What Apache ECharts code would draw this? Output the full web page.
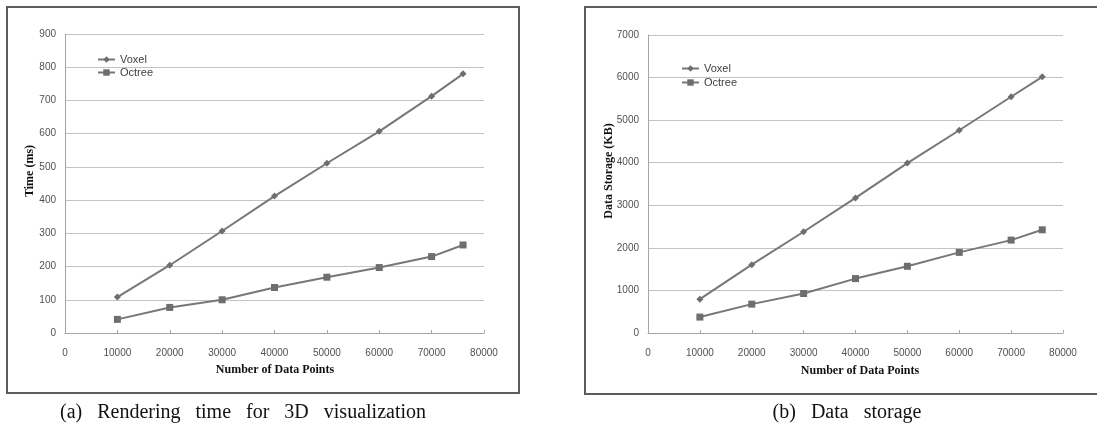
<!DOCTYPE html>
<html><head><meta charset="utf-8">
<script src="https://cdn.jsdelivr.net/npm/echarts@6/dist/echarts.min.js"></script>
<style>html,body{margin:0;padding:0;background:#fff}#c{width:1097px;height:429px}</style>
</head><body><div id="c"></div>
<script>
// ---- data ----
const dataPoints = [10000, 20000, 30000, 40000, 50000, 60000, 70000, 76000];
const voxelTime = [108, 204, 307, 412, 511, 607, 713, 780];
const octreeTime = [41, 77, 100, 137, 168, 197, 230, 265];
const voxelStorage = [795, 1606, 2378, 3173, 3991, 4763, 5550, 6017];
const octreeStorage = [374, 678, 928, 1278, 1567, 1894, 2182, 2424];
const seriesNames = ['Voxel', 'Octree'];
const xTitle = 'Number of Data Points';
const yTitles = ['Time (ms)', 'Data Storage (KB)'];
const captions = ['(a)   Rendering   time   for   3D   visualization', '(b)   Data   storage'];
const xRange = [0, 80000, 10000];
const yRanges = [[0, 900, 100], [0, 7000, 1000]];

// ---- styles ----
const lineColor = '#777777';
const markColor = '#6e6e6e';
const axisColor = '#a6a6a6';
const gridColor = '#c3c3c3';
const labelColor = '#505050';
const sans = 'Liberation Sans';
const serif = 'Liberation Serif';

const chart = echarts.init(document.getElementById('c'), null, {renderer: 'canvas'});
const plain = v => String(v);

function xAxis(gi) {
  return {
    type: 'value', gridIndex: gi, min: xRange[0], max: xRange[1], interval: xRange[2],
    axisLine: {show: true, lineStyle: {color: axisColor, width: 1}},
    axisTick: {show: true, inside: true, length: 3, lineStyle: {color: axisColor}},
    splitLine: {show: false},
    axisLabel: {fontSize: 10, color: labelColor, fontFamily: sans, margin: 15, formatter: plain}
  };
}
function yAxis(gi) {
  const r = yRanges[gi];
  return {
    type: 'value', gridIndex: gi, min: r[0], max: r[1], interval: r[2],
    axisLine: {show: true, lineStyle: {color: axisColor, width: 1}},
    axisTick: {show: false},
    splitLine: {show: true, lineStyle: {color: gridColor, width: 1}},
    axisLabel: {fontSize: 10, color: labelColor, fontFamily: sans, margin: 9, formatter: plain}
  };
}
function pairs(ys) { return dataPoints.map((x, i) => [x, ys[i]]); }
function series(name, gi, ys, symbol, size) {
  return {
    name: name, type: 'line', xAxisIndex: gi, yAxisIndex: gi, data: pairs(ys),
    symbol: symbol, symbolSize: size, showSymbol: true,
    lineStyle: {color: lineColor, width: 2},
    itemStyle: {color: markColor},
    emphasis: {disabled: true}, animation: false
  };
}
function legend(name, left, top) {
  return {
    data: [name], left: left, top: top, orient: 'vertical', selectedMode: false,
    itemWidth: 17, itemHeight: 8, padding: 0,
    textStyle: {fontSize: 11, color: '#404040', fontFamily: sans}
  };
}

chart.setOption({
  backgroundColor: '#ffffff',
  animation: false,
  grid: [
    {left: 65, top: 34, width: 419, height: 299, outerBoundsMode: 'none', containLabel: false},
    {left: 648, top: 35, width: 415, height: 298, outerBoundsMode: 'none', containLabel: false}
  ],
  xAxis: [xAxis(0), xAxis(1)],
  yAxis: [yAxis(0), yAxis(1)],
  legend: [
    legend(seriesNames[0], 97, 54), legend(seriesNames[1], 97, 67),
    legend(seriesNames[0], 681, 63), legend(seriesNames[1], 681, 77)
  ],
  series: [
    series(seriesNames[0], 0, voxelTime, 'diamond', 7),
    series(seriesNames[1], 0, octreeTime, 'rect', 7),
    series(seriesNames[0], 1, voxelStorage, 'diamond', 7),
    series(seriesNames[1], 1, octreeStorage, 'rect', 7)
  ],
  graphic: [
    {type: 'rect', shape: {x: 7, y: 7, width: 512, height: 386}, style: {fill: 'none', stroke: '#5c5c5c', lineWidth: 2}, silent: true},
    {type: 'rect', shape: {x: 585, y: 7, width: 530, height: 387}, style: {fill: 'none', stroke: '#5c5c5c', lineWidth: 2}, silent: true},
    {type: 'text', x: 275, y: 370, style: {text: xTitle, font: 'bold 12px "' + serif + '"', fill: '#111', textAlign: 'center', textVerticalAlign: 'middle'}, silent: true},
    {type: 'text', x: 860, y: 371, style: {text: xTitle, font: 'bold 12px "' + serif + '"', fill: '#111', textAlign: 'center', textVerticalAlign: 'middle'}, silent: true},
    {type: 'text', x: 30, y: 171, rotation: Math.PI / 2, style: {text: yTitles[0], font: 'bold 12px "' + serif + '"', fill: '#111', textAlign: 'center', textVerticalAlign: 'middle'}, silent: true},
    {type: 'text', x: 609, y: 171, rotation: Math.PI / 2, style: {text: yTitles[1], font: 'bold 12px "' + serif + '"', fill: '#111', textAlign: 'center', textVerticalAlign: 'middle'}, silent: true},
    {type: 'text', x: 243, y: 413, style: {text: captions[0], font: '20px "' + serif + '"', fill: '#111', textAlign: 'center', textVerticalAlign: 'middle'}, silent: true},
    {type: 'text', x: 847, y: 413, style: {text: captions[1], font: '20px "' + serif + '"', fill: '#111', textAlign: 'center', textVerticalAlign: 'middle'}, silent: true}
  ]
});
</script></body></html>
